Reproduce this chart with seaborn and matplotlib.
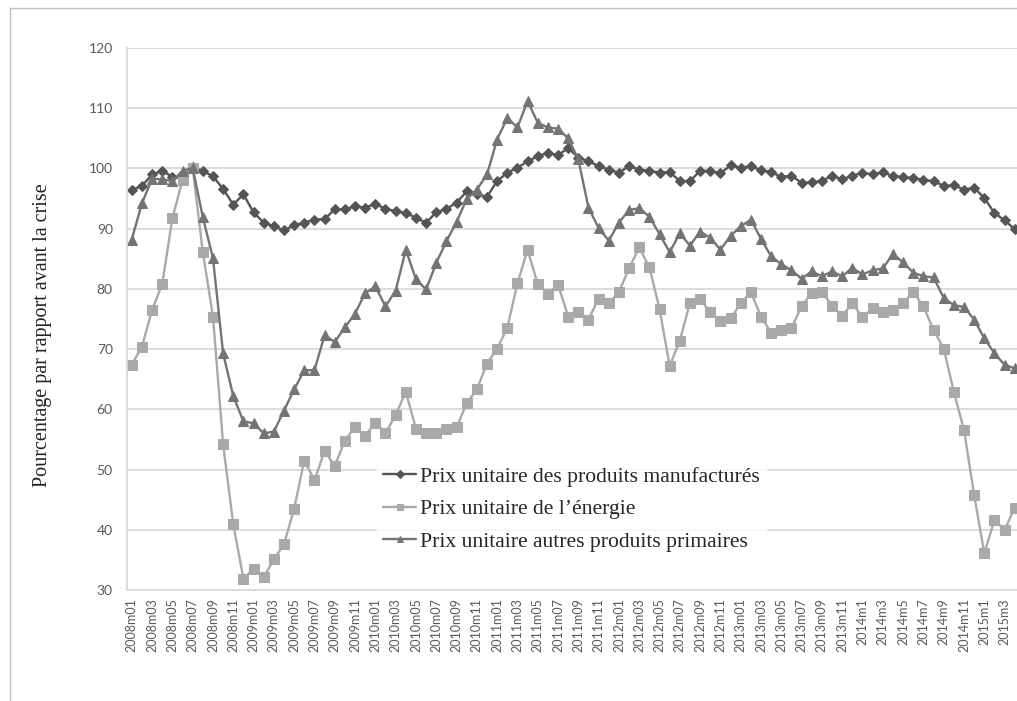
import numpy as np
import pandas as pd
import matplotlib
matplotlib.use("Agg")
import matplotlib.pyplot as plt
import seaborn as sns

# months 2008m01 .. 2015m04
months = [f"{y}m{m:02d}" if y < 2014 else f"{y}m{m}"
          for y in range(2008, 2016) for m in range(1, 13)][:88]

manufactures = [
    96.4, 97.1, 99.0, 99.6, 98.6, 98.4, 100.2, 99.6, 98.7, 96.6,
    94.0, 95.7, 92.7, 91.0, 90.4, 89.7, 90.6, 91.0, 91.5, 91.6,
    93.2, 93.2, 93.7, 93.5, 94.1, 93.3, 92.9, 92.6, 91.8, 91.0,
    92.7, 93.3, 94.3, 96.2, 95.7, 95.3, 97.9, 99.3, 100.1, 101.2,
    102.0, 102.6, 102.2, 103.4, 101.8, 101.2, 100.4, 99.8, 99.3, 100.4,
    99.8, 99.6, 99.3, 99.4, 97.9, 97.9, 99.6, 99.6, 99.2, 100.5,
    100.1, 100.4, 99.7, 99.4, 98.6, 98.8, 97.6, 97.7, 97.9, 98.8,
    98.2, 98.8, 99.3, 99.0, 99.4, 98.7, 98.6, 98.4, 98.1, 97.9,
    97.1, 97.2, 96.5, 96.8, 95.1, 92.6, 91.4, 89.9,
]

energie = [
    67.4, 70.4, 76.5, 80.8, 91.7, 98.1, 100.0, 86.1, 75.4, 54.2,
    40.9, 31.9, 33.5, 32.1, 35.1, 37.6, 43.5, 51.5, 48.2, 53.1,
    50.6, 54.8, 57.1, 55.6, 57.8, 56.0, 59.1, 62.9, 56.8, 56.0,
    56.0, 56.7, 57.0, 61.0, 63.3, 67.6, 70.1, 73.5, 80.9, 86.5,
    80.8, 79.2, 80.7, 75.4, 76.2, 74.9, 78.4, 77.6, 79.5, 83.4,
    86.9, 83.6, 76.7, 67.2, 71.4, 77.7, 78.3, 76.1, 74.6, 75.1,
    77.6, 79.5, 75.4, 72.7, 73.2, 73.5, 77.1, 79.3, 79.5, 77.2,
    75.5, 77.6, 75.3, 76.8, 76.2, 76.5, 77.6, 79.5, 77.1, 73.2,
    70.1, 62.9, 56.6, 45.8, 36.1, 41.6, 40.0, 43.6,
]

autres_primaires = [
    88.2, 94.2, 98.3, 98.2, 97.9, 99.6, 100.1, 91.9, 85.1, 69.3,
    62.2, 58.0, 57.7, 56.0, 56.3, 59.8, 63.3, 66.5, 66.5, 72.3,
    71.2, 73.6, 75.9, 79.3, 80.4, 77.1, 79.7, 86.5, 81.6, 79.9,
    84.3, 87.9, 91.1, 94.9, 96.5, 99.0, 104.8, 108.4, 106.8, 111.2,
    107.6, 106.8, 106.6, 105.0, 101.5, 93.5, 90.1, 88.0, 91.0, 93.1,
    93.4, 92.0, 89.1, 86.1, 89.2, 87.2, 89.5, 88.5, 86.5, 88.8,
    90.4, 91.5, 88.3, 85.4, 84.1, 83.1, 81.7, 82.9, 82.1, 82.9,
    82.1, 83.5, 82.4, 83.1, 83.4, 85.8, 84.4, 82.7, 82.1, 81.9,
    78.5, 77.3, 77.0, 74.9, 71.8, 69.3, 67.4, 66.8,
]

series_labels = [
    "Prix unitaire des produits manufacturés",
    "Prix unitaire de l\u2019énergie",
    "Prix unitaire autres produits primaires",
]
series_colors = ["#555555", "#a9a9a9", "#747474"]
series_markers = ["D", "s", "^"]
series_sizes = [5.5, 7.5, 7.5]

sns.set_theme(style="white")
plt.rcParams["font.family"] = ["Lato", "DejaVu Sans"]

fig = plt.figure(figsize=(10.17, 7.01), dpi=100)
ax = fig.add_axes([126.7 / 1017, 1 - 590 / 701, (1019.8 - 126.7) / 1017, (590 - 48) / 701])

x = np.arange(len(months))
for vals, lab, col, mk, ms in zip([manufactures, energie, autres_primaires],
                                  series_labels, series_colors, series_markers, series_sizes):
    sns.lineplot(x=x, y=vals, ax=ax, color=col, marker=mk, markersize=ms,
                 markeredgecolor=col, linewidth=1.7, label=lab)

ax.set_xlim(-0.5, len(months) - 0.5)
ax.set_ylim(30, 120)
ax.set_yticks(range(30, 121, 10))
ax.yaxis.grid(True, color="#d9d9d9", linewidth=1.3)
ax.set_axisbelow(True)
for side in ["top", "right"]:
    ax.spines[side].set_visible(False)
ax.spines["left"].set_color("#d9d9d9")
ax.spines["left"].set_linewidth(1.3)
ax.spines["bottom"].set_color("#d9d9d9")
ax.spines["bottom"].set_linewidth(1.3)

ax.set_xticks(x[::2])
ax.set_xticklabels(months[::2], rotation=90, fontsize=9, color="#595959")
ax.set_xticks(np.arange(-0.5, len(months), 1), minor=True)
ax.tick_params(axis="x", which="major", length=0, pad=6)
ax.tick_params(axis="x", which="minor", length=4, color="#d9d9d9", width=1)
ax.tick_params(axis="y", length=0, labelsize=10, labelcolor="#595959", pad=10)

ax.set_ylabel("Pourcentage par rapport avant la crise", family="Liberation Serif",
              fontsize=14.5, color="#222222")
ax.yaxis.set_label_coords(-0.084, 0.47)

leg = ax.legend(loc="upper left", bbox_to_anchor=(0.268, 0.26), frameon=True,
                prop={"family": "Liberation Serif", "size": 15.6}, handlelength=1.5,
                handletextpad=0.2, labelspacing=0.58, borderpad=0.3, fancybox=False)
leg.get_frame().set_edgecolor("white")
leg.get_frame().set_facecolor("white")
for h in leg.legend_handles:
    h.set_markersize(4)

# outer frame of the chart
fig.add_artist(plt.Line2D([10 / 1017, 10 / 1017], [1 - 8 / 701, 0], color="#bfbfbf", lw=1))
fig.add_artist(plt.Line2D([10 / 1017, 1], [1 - 8 / 701, 1 - 8 / 701], color="#bfbfbf", lw=1))

fig.savefig("out.png", dpi=100)
